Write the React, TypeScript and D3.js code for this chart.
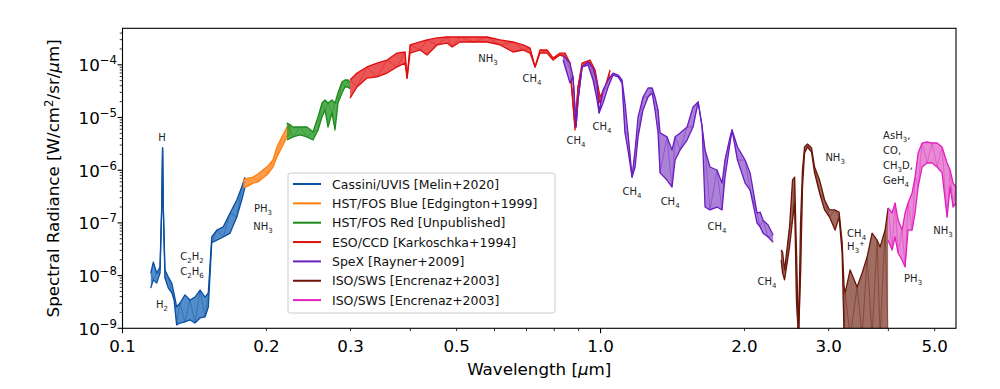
import { useEffect, useRef } from 'react';
import * as d3 from 'd3';

const WIDTH = 1000;
const HEIGHT = 389;
const margin = { top: 28.3, right: 44, bottom: 60.7, left: 122.5 };

// Cassini/UVIS [Melin+2020]
const uvisWl = [0.1146, 0.116, 0.1179, 0.1198, 0.1208, 0.1213, 0.1217, 0.1227, 0.1247, 0.1268, 0.1282, 0.1298, 0.1319, 0.1351, 0.1384, 0.1418, 0.1453, 0.1488, 0.1512, 0.1537, 0.1575, 0.1625, 0.1679, 0.1734, 0.1776, 0.1804];
const uvisHi = [1.12e-8, 1.81e-8, 1.12e-8, 1.46e-8, 2.0e-7, 2.64e-6, 2.0e-7, 1.28e-8, 9.4e-9, 7.2e-9, 4.5e-9, 2.54e-9, 3.02e-9, 4.3e-9, 3.44e-9, 3.9e-9, 5.3e-9, 3.9e-9, 4.7e-9, 5.4e-8, 7.3e-8, 8.4e-8, 1.54e-7, 2.72e-7, 4.8e-7, 7.4e-7];
const uvisLo = [5.8e-9, 8.3e-9, 7.2e-9, 1.12e-8, 2.0e-7, 2.64e-6, 2.0e-7, 9.0e-9, 5.8e-9, 4.7e-9, 3.44e-9, 1.16e-9, 1.26e-9, 1.32e-9, 1.44e-9, 1.26e-9, 1.57e-9, 1.64e-9, 2.54e-9, 4.2e-8, 4.7e-8, 5.4e-8, 6.4e-8, 1.29e-7, 2.72e-7, 4.8e-7];

// HST/FOS Blue [Edgington+1999]
const fosBlueWl = [0.1789, 0.183, 0.1875, 0.192, 0.1967, 0.2015, 0.2064, 0.2104, 0.2156, 0.2208, 0.2251];
const fosBlueHi = [6.5e-7, 7.1e-7, 7.4e-7, 8.5e-7, 1.01e-6, 1.2e-6, 1.56e-6, 2.75e-6, 4.3e-6, 6.6e-6, 7.5e-6];
const fosBlueLo = [4.6e-7, 5.0e-7, 5.7e-7, 6.0e-7, 7.1e-7, 8.5e-7, 1.15e-6, 1.78e-6, 2.75e-6, 4.3e-6, 4.9e-6];

// HST/FOS Red [Unpublished]
const fosRedWl = [0.2208, 0.2273, 0.2351, 0.2432, 0.2503, 0.2564, 0.2614, 0.2652, 0.2691, 0.2743, 0.2783, 0.2823, 0.2878, 0.292, 0.2963, 0.2992];
const fosRedHi = [7.9e-6, 6.6e-6, 6.6e-6, 6.6e-6, 5.3e-6, 1.02e-5, 1.88e-5, 2.15e-5, 1.88e-5, 2.15e-5, 1.88e-5, 2.92e-5, 4.7e-5, 5.15e-5, 5.15e-5, 4.7e-5];
const fosRedLo = [3.74e-6, 4.3e-6, 4.7e-6, 4.3e-6, 3.74e-6, 5.8e-6, 1.02e-5, 1.39e-5, 6.6e-6, 1.22e-5, 5.8e-6, 1.88e-5, 2.92e-5, 3.79e-5, 3.79e-5, 3.5e-5];

// ESO/CCD [Karkoschka+1994]
const esoWl = [0.2992, 0.3094, 0.3247, 0.3407, 0.3576, 0.3752, 0.39, 0.3938, 0.3995, 0.4193, 0.4335, 0.4549, 0.4774, 0.4891, 0.5082, 0.5412, 0.5789, 0.6163, 0.656, 0.6885, 0.7121, 0.7295, 0.7471, 0.7728, 0.7953, 0.8226, 0.8427, 0.8633, 0.8844, 0.8973, 0.9148, 0.9506, 0.9739, 0.9977, 1.022, 1.047];
const esoHi = [5.15e-5, 6.98e-5, 9.1e-5, 1.08e-4, 1.23e-4, 1.67e-4, 1.75e-4, 5.6e-5, 2.38e-4, 2.71e-4, 2.96e-4, 3.23e-4, 3.37e-4, 3.37e-4, 3.37e-4, 3.37e-4, 3.37e-4, 2.96e-4, 2.71e-4, 2.38e-4, 2.08e-4, 9.1e-5, 1.91e-4, 1.91e-4, 1.35e-4, 1.67e-4, 1.67e-4, 1.08e-4, 6.6e-6, 3.79e-5, 1.08e-4, 1.23e-4, 7.96e-5, 2.45e-5, 3.79e-5, 7.96e-5];
const esoLo = [2.34e-5, 3.79e-5, 5.6e-5, 5.9e-5, 6.98e-5, 9.1e-5, 1.08e-4, 5.6e-5, 1.67e-4, 1.91e-4, 1.53e-4, 2.38e-4, 2.59e-4, 2.18e-4, 2.71e-4, 2.71e-4, 2.71e-4, 2.38e-4, 1.75e-4, 1.91e-4, 1.67e-4, 9.1e-5, 1.67e-4, 1.67e-4, 1.23e-4, 1.53e-4, 1.41e-4, 7.96e-5, 5.8e-6, 3.79e-5, 9.1e-5, 1.08e-4, 3.79e-5, 1.88e-5, 3.79e-5, 5.9e-5];

// SpeX [Rayner+2009]
const spexWl = [0.8347, 0.8633, 0.8759, 0.8886, 0.8973, 0.9148, 0.9414, 0.9645, 0.9833, 0.9929, 1.012, 1.037, 1.062, 1.088, 1.109, 1.125, 1.141, 1.164, 1.181, 1.198, 1.227, 1.257, 1.282, 1.3, 1.319, 1.332, 1.377, 1.411, 1.432, 1.467, 1.517, 1.561, 1.6, 1.631, 1.654, 1.694, 1.752, 1.795, 1.821, 1.866, 1.884, 1.934, 2.006, 2.055, 2.125, 2.156, 2.188, 2.241, 2.296];
const spexHi = [1.53e-4, 1.08e-4, 5.9e-5, 6.6e-6, 2.15e-5, 9.1e-5, 1.13e-4, 8.7e-5, 4.5e-5, 1.22e-5, 3.33e-5, 5.15e-5, 6.98e-5, 6.4e-5, 5.15e-5, 1.88e-5, 5.1e-6, 7.4e-7, 2.42e-6, 1.02e-5, 2.45e-5, 3.63e-5, 3.63e-5, 2.45e-5, 1.39e-5, 5.1e-6, 4.3e-6, 2.42e-6, 4.3e-6, 5.1e-6, 6.6e-6, 1.58e-5, 1.97e-5, 6.6e-6, 2.42e-6, 1.15e-6, 1.01e-6, 5.7e-7, 1.56e-6, 4.3e-6, 5.8e-6, 2.75e-6, 1.56e-6, 8.9e-7, 1.54e-7, 1.61e-7, 1.13e-7, 9.1e-8, 5.9e-8];
const spexLo = [1.23e-4, 4.5e-5, 5.9e-5, 6.6e-6, 2.15e-5, 9.1e-5, 9.9e-5, 5.15e-5, 2.15e-5, 1.22e-5, 1.88e-5, 3.79e-5, 6.4e-5, 5.9e-5, 4.5e-5, 5.1e-6, 2.42e-6, 7.4e-7, 1.15e-6, 4.3e-6, 1.39e-5, 2.45e-5, 2.92e-5, 1.39e-5, 5.1e-6, 8.9e-7, 6.5e-7, 4.8e-7, 1.56e-6, 2.42e-6, 3.74e-6, 6.6e-6, 1.97e-5, 6.6e-6, 2.0e-7, 1.76e-7, 2.0e-7, 1.76e-7, 7.4e-7, 3.28e-6, 5.8e-6, 1.56e-6, 5.7e-7, 4.2e-7, 9.95e-8, 8.4e-8, 6.4e-8, 5.4e-8, 4.3e-8];

// ISO/SWS [Encrenaz+2003], short part
const swsAWl = [2.386, 2.403, 2.426, 2.449, 2.485, 2.521, 2.546, 2.57, 2.595, 2.62, 2.645, 2.671, 2.71, 2.763, 2.803, 2.872, 2.942, 3.013, 3.094, 3.155, 3.201, 3.232, 3.248, 3.327, 3.441, 3.525, 3.611, 3.698, 3.789, 3.844, 3.937, 3.995];
const swsAHi = [3.06e-8, 2.8e-8, 1.28e-8, 2.68e-8, 8.4e-8, 6.5e-7, 7.4e-7, 2.68e-8, 7e-10, 1.0e-7, 1.01e-6, 2.75e-6, 3.14e-6, 2.64e-6, 1.15e-6, 6.5e-7, 2.72e-7, 1.76e-7, 1.76e-7, 1.61e-7, 4.3e-8, 6.1e-9, 4.7e-9, 1.28e-8, 6.1e-9, 1.12e-8, 2.25e-8, 6.4e-8, 4.7e-8, 3.49e-8, 7.3e-8, 1.92e-7];
const swsALo = [1.98e-8, 1.12e-8, 8.3e-9, 1.46e-8, 3.49e-8, 1.13e-7, 2.39e-7, 3.02e-9, 7e-10, 1.0e-8, 4.8e-7, 2.12e-6, 2.75e-6, 2.21e-6, 8.9e-7, 3.69e-7, 1.76e-7, 1.29e-7, 7.3e-8, 1.29e-7, 2.68e-8, 7e-10, 7e-10, 7e-10, 7e-10, 7e-10, 7e-10, 7e-10, 7e-10, 7e-10, 7e-10, 7e-10];

// ISO/SWS [Encrenaz+2003], long part
const swsBWl = [3.995, 4.072, 4.131, 4.192, 4.273, 4.335, 4.398, 4.484, 4.549, 4.616, 4.705, 4.82, 4.937, 5.058, 5.181, 5.307, 5.385, 5.464, 5.543];
const swsBHi = [1.92e-7, 1.54e-7, 2.39e-7, 1.13e-7, 7.3e-8, 1.54e-7, 2.39e-7, 3.69e-7, 7.4e-7, 2.12e-6, 3.28e-6, 3.43e-6, 3.28e-6, 3.28e-6, 2.75e-6, 1.37e-6, 1.01e-6, 5.7e-7, 4.8e-7];
const swsBLo = [4.7e-8, 3.06e-8, 5.4e-8, 2.68e-8, 1.98e-8, 1.46e-8, 7.3e-8, 7.3e-8, 1.54e-7, 4.8e-7, 1.15e-6, 1.37e-6, 1.37e-6, 1.15e-6, 8.9e-7, 1.29e-7, 4.8e-7, 2.0e-7, 2.39e-7];

const seriesNames = [
  'Cassini/UVIS [Melin+2020]',
  'HST/FOS Blue [Edgington+1999]',
  'HST/FOS Red [Unpublished]',
  'ESO/CCD [Karkoschka+1994]',
  'SpeX [Rayner+2009]',
  'ISO/SWS [Encrenaz+2003]',
  'ISO/SWS [Encrenaz+2003]',
];

// molecule labels: text, wavelength, radiance, anchor
const labelText = ['H', 'H_2', 'C_2H_2', 'C_2H_6', 'PH_3', 'NH_3', 'NH_3', 'CH_4', 'CH_4', 'CH_4', 'CH_4', 'CH_4', 'CH_4', 'CH_4', 'NH_3', 'CH_4', 'H_3^+', 'AsH_3,', 'CO,', 'CH_3D,', 'GeH_4', 'PH_3', 'NH_3'];
const labelWl = [0.1209, 0.1209, 0.1398, 0.1398, 0.1967, 0.1967, 0.5815, 0.719, 0.8886, 1.007, 1.164, 1.398, 1.752, 2.23, 3.095, 3.279, 3.279, 3.899, 3.899, 3.899, 3.899, 4.506, 5.206];
const labelVal = [4.14e-6, 2.77e-9, 2.28e-8, 1.22e-8, 1.84e-7, 8.7e-8, 1.29e-4, 5.6e-5, 3.74e-6, 6.9e-6, 3.86e-7, 2.6e-7, 8.7e-8, 7.6e-9, 1.78e-6, 6.4e-8, 3.49e-8, 4.46e-6, 2.34e-6, 1.22e-6, 6.3e-7, 9.0e-9, 7.3e-8];
const labelAnchor = ['middle', 'middle', 'middle', 'middle', 'middle', 'middle', 'middle', 'middle', 'middle', 'middle', 'middle', 'middle', 'middle', 'middle', 'middle', 'start', 'start', 'start', 'start', 'start', 'start', 'middle', 'middle'];

const xTickLabels = [0.1, 0.2, 0.3, 0.5, 1.0, 2.0, 3.0, 5.0];

const FONT = "'DejaVu Sans', sans-serif";

function richText(sel: any, str: string, size: number) {
  let offset = 0;
  let i = 0;
  while (i < str.length) {
    let c = str[i];
    let shift = 0;
    if (c === '_' || c === '^') {
      shift = c === '_' ? size * 0.3 : -size * 0.45;
      c = str[i + 1];
      i += 2;
    } else {
      i += 1;
    }
    const dy = shift - offset;
    offset = shift;
    sel.append('tspan').attr('dy', dy).attr('font-size', shift ? size * 0.7 : size).text(c);
  }
}

const App = () => {
  const ref = useRef<SVGSVGElement>(null);

  useEffect(() => {
    const svg = d3.select(ref.current);
    svg.selectAll('*').remove();

    const series = [
      { wl: uvisWl, hi: uvisHi, lo: uvisLo, color: '#0b4fa0', fill: '#3479bf' },
      { wl: fosBlueWl, hi: fosBlueHi, lo: fosBlueLo, color: '#ff7f0e', fill: '#ff8d30' },
      { wl: fosRedWl, hi: fosRedHi, lo: fosRedLo, color: '#1a8a1a', fill: '#35a035' },
      { wl: esoWl, hi: esoHi, lo: esoLo, color: '#e00d0d', fill: '#e83a3a' },
      { wl: spexWl, hi: spexHi, lo: spexLo, color: '#6a1ec0', fill: '#9d6cd2' },
      { wl: swsAWl, hi: swsAHi, lo: swsALo, color: '#6a1508', fill: '#8e5446' },
      { wl: swsBWl, hi: swsBHi, lo: swsBLo, color: '#e21fc0', fill: '#e475cd' },
    ];

    const innerW = WIDTH - margin.left - margin.right;
    const innerH = HEIGHT - margin.top - margin.bottom;

    const x = d3.scaleLog().domain([0.1, 5.54]).range([margin.left, margin.left + innerW]);
    const y = d3.scaleLog().domain([1e-9, 4.93e-4]).range([margin.top + innerH, margin.top]);

    svg.append('rect').attr('width', WIDTH).attr('height', HEIGHT).attr('fill', 'white');

    svg.append('defs').append('clipPath').attr('id', 'plot-clip')
      .append('rect')
      .attr('x', margin.left).attr('y', margin.top)
      .attr('width', innerW).attr('height', innerH);

    const plot = svg.append('g').attr('clip-path', 'url(#plot-clip)');

    series.forEach((s) => {
      const idx = s.wl.map((_, i) => i);
      const area = d3.area<number>()
        .x((i) => x(s.wl[i]))
        .y0((i) => y(s.lo[i]))
        .y1((i) => y(s.hi[i]));
      const hiLine = d3.line<number>().x((i) => x(s.wl[i])).y((i) => y(s.hi[i]));
      const loLine = d3.line<number>().x((i) => x(s.wl[i])).y((i) => y(s.lo[i]));
      // noisy trace: alternate between upper and lower envelope of the read points
      const zig = d3.line<number>()
        .x((i) => x(s.wl[i]))
        .y((i, k) => y(k % 2 === 0 ? s.hi[i] : s.lo[i]));
      plot.append('path').attr('d', area(idx)).attr('fill', s.fill).attr('opacity', 0.85);
      plot.append('path').attr('d', zig(idx)).attr('fill', 'none').attr('stroke', s.color).attr('stroke-width', 0.6).attr('opacity', 0.7);
      plot.append('path').attr('d', hiLine(idx)).attr('fill', 'none').attr('stroke', s.color).attr('stroke-width', 1.3).attr('stroke-linejoin', 'round');
      plot.append('path').attr('d', loLine(idx)).attr('fill', 'none').attr('stroke', s.color).attr('stroke-width', 1.3).attr('stroke-linejoin', 'round');
    });

    // molecule labels
    labelText.forEach((t, i) => {
      const txt = svg.append('text')
        .attr('x', x(labelWl[i]))
        .attr('y', y(labelVal[i]) + 3.5)
        .attr('text-anchor', labelAnchor[i])
        .attr('font-family', FONT)
        .attr('font-size', 10)
        .attr('fill', '#222');
      richText(txt, t, 10);
    });

    // axes frame
    svg.append('rect')
      .attr('x', margin.left).attr('y', margin.top)
      .attr('width', innerW).attr('height', innerH)
      .attr('fill', 'none').attr('stroke', 'black').attr('stroke-width', 1.1);

    const bottom = margin.top + innerH;
    const left = margin.left;

    // x ticks
    const xMajor = [0.1, 1];
    const xMinor: number[] = [];
    [0.1, 1].forEach((d) => { for (let k = 2; k <= 9; k++) if (k * d <= 5.54) xMinor.push(k * d); });
    xMinor.forEach((v) => {
      svg.append('line').attr('x1', x(v)).attr('x2', x(v)).attr('y1', bottom).attr('y2', bottom + 2.8).attr('stroke', 'black').attr('stroke-width', 0.8);
    });
    xMajor.forEach((v) => {
      svg.append('line').attr('x1', x(v)).attr('x2', x(v)).attr('y1', bottom).attr('y2', bottom + 4.9).attr('stroke', 'black').attr('stroke-width', 1.1);
    });
    xTickLabels.forEach((v) => {
      svg.append('text')
        .attr('x', x(v)).attr('y', bottom + 23.5)
        .attr('text-anchor', 'middle')
        .attr('font-family', FONT).attr('font-size', 16.7)
        .text(d3.format('.1f')(v));
    });

    // y ticks
    const yMajor = d3.range(-9, -3).map((e) => Math.pow(10, e));
    yMajor.forEach((v) => {
      for (let k = 2; k <= 9; k++) {
        const m = k * v;
        if (m > 4.93e-4) continue;
        svg.append('line').attr('x1', left - 2.8).attr('x2', left).attr('y1', y(m)).attr('y2', y(m)).attr('stroke', 'black').attr('stroke-width', 0.8);
      }
      svg.append('line').attr('x1', left - 4.9).attr('x2', left).attr('y1', y(v)).attr('y2', y(v)).attr('stroke', 'black').attr('stroke-width', 1.1);
      const t = svg.append('text')
        .attr('x', left - 5.5).attr('y', y(v) + 6.5)
        .attr('text-anchor', 'end')
        .attr('font-family', FONT).attr('font-size', 16.7);
      t.append('tspan').text('10');
      t.append('tspan').attr('dy', -7).attr('font-size', 11.7).text('\u2212' + Math.abs(Math.round(Math.log10(v))));
    });

    // axis titles
    const xl = svg.append('text')
      .attr('x', margin.left + innerW / 2).attr('y', 375)
      .attr('text-anchor', 'middle')
      .attr('font-family', FONT).attr('font-size', 16.7);
    xl.append('tspan').text('Wavelength [');
    xl.append('tspan').attr('font-style', 'italic').text('\u03bc');
    xl.append('tspan').text('m]');

    const yl = svg.append('text')
      .attr('transform', `translate(59,${margin.top + innerH / 2}) rotate(-90)`)
      .attr('text-anchor', 'middle')
      .attr('font-family', FONT).attr('font-size', 16.7);
    yl.append('tspan').text('Spectral Radiance [W/cm');
    yl.append('tspan').attr('dy', -6).attr('font-size', 11.7).text('2');
    yl.append('tspan').attr('dy', 6).text('/sr/');
    yl.append('tspan').attr('font-style', 'italic').text('\u03bc');
    yl.append('tspan').text('m]');

    // legend
    const lg = svg.append('g').attr('transform', 'translate(288,173)');
    lg.append('rect').attr('width', 267).attr('height', 140).attr('rx', 2.5)
      .attr('fill', 'white').attr('fill-opacity', 0.8).attr('stroke', '#cccccc').attr('stroke-width', 1);
    seriesNames.forEach((name, i) => {
      const cy = 11 + i * 19.35;
      lg.append('line').attr('x1', 5).attr('x2', 33).attr('y1', cy).attr('y2', cy)
        .attr('stroke', series[i].color).attr('stroke-width', 2);
      lg.append('text').attr('x', 44).attr('y', cy + 4.5)
        .attr('font-family', FONT).attr('font-size', 12.5).attr('fill', '#111')
        .text(name);
    });
  }, []);

  return (
    <svg ref={ref} width={WIDTH} height={HEIGHT} style={{ position: 'absolute', left: 0, top: 0 }} />
  );
};

export default App;
